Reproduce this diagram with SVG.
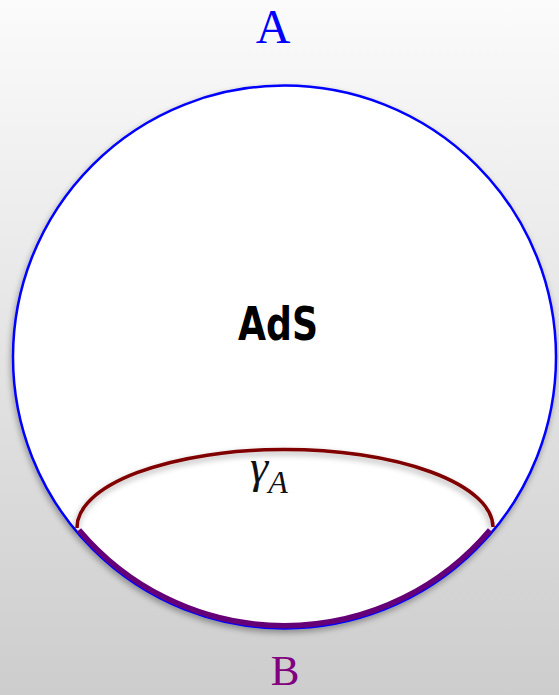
<svg xmlns="http://www.w3.org/2000/svg" width="559" height="695" viewBox="0 0 559 695">
<defs>
<linearGradient id="bg" x1="0" y1="0" x2="0" y2="1">
<stop offset="0" stop-color="#fbfbfb"/>
<stop offset="1" stop-color="#cdcdcd"/>
</linearGradient>
<filter id="sh" x="-10%" y="-10%" width="120%" height="140%">
<feGaussianBlur in="SourceAlpha" stdDeviation="3"/>
<feOffset dx="-1" dy="3" result="b"/>
<feComponentTransfer><feFuncA type="linear" slope="0.35"/></feComponentTransfer>
<feMerge><feMergeNode/><feMergeNode in="SourceGraphic"/></feMerge>
</filter>
<style>
.lbl{font-family:"Liberation Serif",serif;}
.math{font-family:"Liberation Serif",serif;font-style:italic;fill:#111;}
.hand{font-family:"DejaVu Sans",sans-serif;font-weight:bold;}
</style>
</defs>
<rect width="559" height="695" fill="url(#bg)"/>
<g id="ads">
<circle cx="284.5" cy="357" r="271.5" fill="#ffffff" stroke="#0000ff" stroke-width="2.5" filter="url(#sh)"/>
<text class="hand" x="238" y="340" font-size="46" textLength="80" lengthAdjust="spacingAndGlyphs" fill="#000">AdS</text>
</g>
<g id="connectors">
<path id="gammaA" d="M77,528 A208,78 0 0 1 493,527" fill="none" stroke="#800000" stroke-width="3.5" filter="url(#sh)"/>
<path id="regionB" d="M79,530 A268.5,268.5 0 0 0 490,530" fill="none" stroke="#660077" stroke-width="5.5"/>
</g>
<g id="labelA"><text class="lbl" x="273" y="43" font-size="48" text-anchor="middle" fill="#0000ff">A</text></g>
<g id="labelB"><text class="lbl" x="285" y="685" font-size="43" text-anchor="middle" fill="#800080">B</text></g>
<g id="labelGamma"><text class="math" x="250" y="482" font-size="46">γ<tspan dy="11" font-size="32">A</tspan></text></g>
</svg>
